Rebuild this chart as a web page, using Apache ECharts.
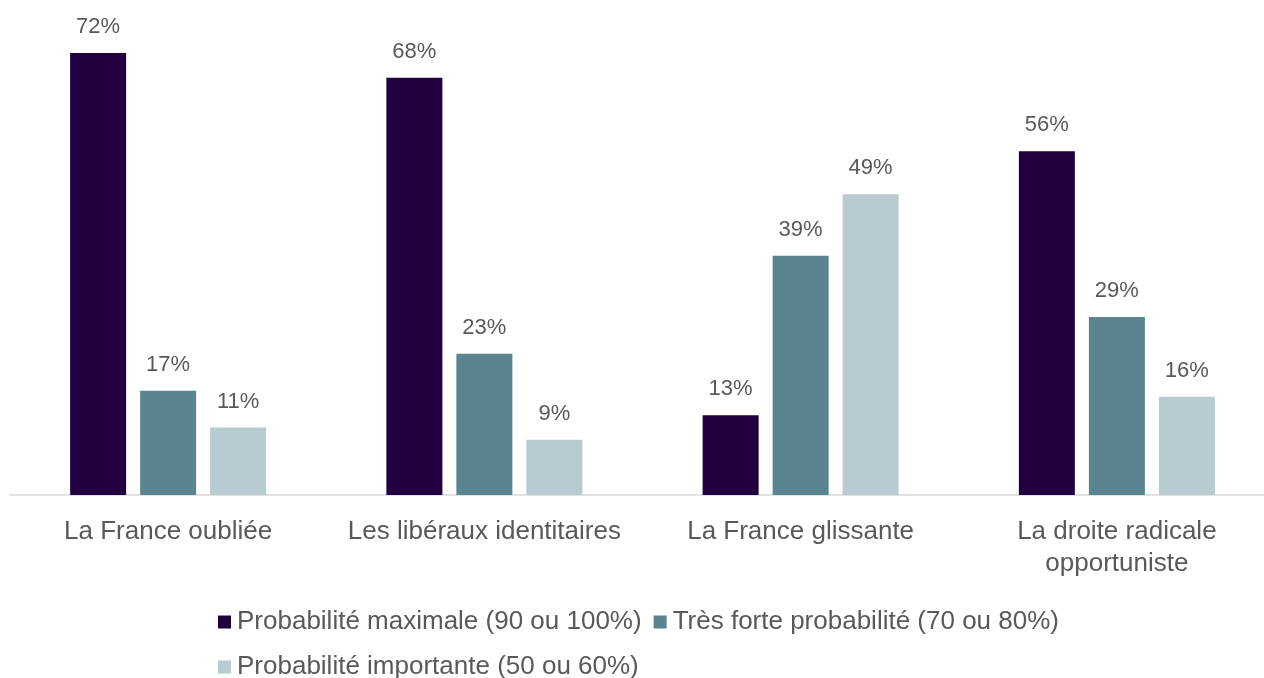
<!DOCTYPE html>
<html>
<head>
<meta charset="utf-8">
<script src="https://cdn.jsdelivr.net/npm/echarts@6/dist/echarts.min.js"></script>
<style>
html,body{margin:0;padding:0;background:#fff;}
#main{width:1264px;height:678px;}
</style>
</head>
<body>
<div id="main"></div>
<script>
// 类别
const categories = ['La France oubliée', 'Les libéraux identitaires', 'La France glissante', 'La droite radicale\nopportuniste'];
// 系列名称
const seriesNames = ['Probabilité maximale (90 ou 100%)', 'Très forte probabilité (70 ou 80%)', 'Probabilité importante (50 ou 60%)'];
// 数据
const maxValues = [72, 68, 13, 56];
const strongValues = [17, 23, 39, 29];
const importantValues = [11, 9, 49, 16];
const colors = ['#220040', '#5a8590', '#b7cbd1'];

const FONT = '"Liberation Sans", Arial, sans-serif';

function makeSeries(name, data, color){
	return {
		name: name,
		type: 'bar',
		data: data,
		barWidth: 56,
		barGap: '25%',
		itemStyle: {color: color},
		label: {
			show: true,
			position: 'top',
			distance: 15,
			formatter: '{c}%',
			fontFamily: FONT,
			fontSize: 22,
			color: '#595959'
		}
	};
}

let myChart = echarts.init(document.getElementById('main'));
let option = {
	animation: false,
	backgroundColor: '#ffffff',
	grid: {left: 10, width: 1265, top: 4, bottom: 183, outerBoundsMode: 'none', containLabel: false},
	legend: [{
		data: [seriesNames[0], seriesNames[1]],
		left: 213,
		top: 604,
		icon: 'rect',
		itemWidth: 13,
		itemHeight: 13,
		itemGap: 12,
		textStyle: {fontFamily: FONT, fontSize: 26, color: '#595959', padding: [0, 0, 0, 1]}
	}, {
		data: [seriesNames[2]],
		left: 213,
		top: 649,
		icon: 'rect',
		itemWidth: 13,
		itemHeight: 13,
		textStyle: {fontFamily: FONT, fontSize: 26, color: '#595959', padding: [0, 0, 0, 1]}
	}],
	xAxis: {
		type: 'category',
		data: categories,
		axisLine: {lineStyle: {color: '#d9d9d9', width: 1.5}},
		axisTick: {show: false},
		axisLabel: {
			fontFamily: FONT,
			fontSize: 26,
			lineHeight: 32,
			margin: 21,
			color: '#595959',
			interval: 0
		}
	},
	yAxis: {
		type: 'value',
		min: 0,
		max: 80,
		show: false,
		splitLine: {show: false}
	},
	series: [
		makeSeries(seriesNames[0], maxValues, colors[0]),
		makeSeries(seriesNames[1], strongValues, colors[1]),
		makeSeries(seriesNames[2], importantValues, colors[2])
	]
};
myChart.setOption(option);
</script>
</body>
</html>
